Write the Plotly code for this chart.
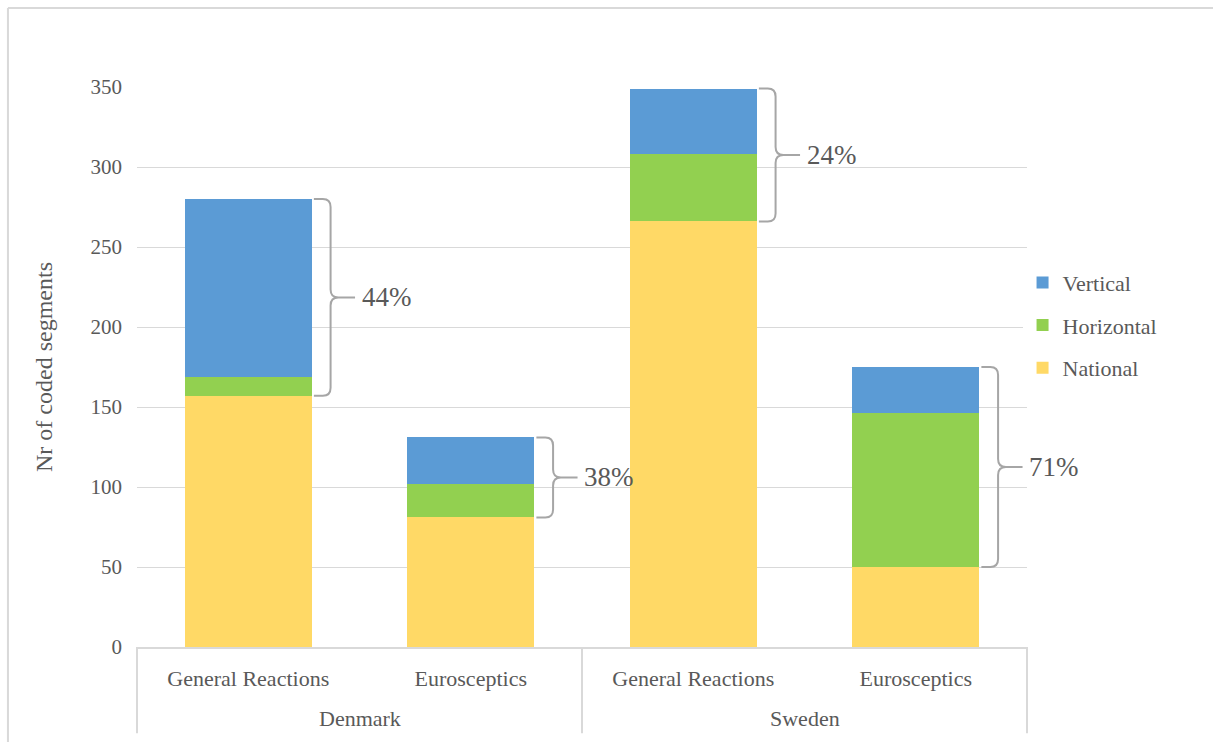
import plotly.graph_objects as go

# Coded segments per country and group
countries = ["Denmark", "Denmark", "Sweden", "Sweden"]
groups = ["General Reactions", "Eurosceptics", "General Reactions", "Eurosceptics"]
national = [157, 81, 266, 50]
horizontal = [12, 21, 42, 96]
vertical = [111, 29, 41, 29]
share_labels = ["44%", "38%", "24%", "71%"]

FONT = "Liberation Serif, Times New Roman, DejaVu Serif, serif"
GREY_TEXT = "#595959"
GRID = "#d9d9d9"
COLORS = {"National": "#FFD966", "Horizontal": "#92D050", "Vertical": "#5B9BD5"}
LEGEND_RANK = {"Vertical": 1, "Horizontal": 2, "National": 3}

xpos = list(range(len(groups)))

fig = go.Figure()
for name, vals in [("National", national), ("Horizontal", horizontal), ("Vertical", vertical)]:
    fig.add_trace(go.Bar(
        x=xpos, y=vals, name=name, legendgroup=name,
        legendrank=LEGEND_RANK[name],
        marker=dict(color=COLORS[name], line=dict(width=0)),
        hoverinfo="y+name",
    ))

shapes = []
annotations = []

# Curly brackets spanning the horizontal + vertical parts of each bar
for i, lab in enumerate(share_labels):
    y_bot = national[i]
    y_top = national[i] + horizontal[i] + vertical[i]
    y_mid = (y_top + y_bot) / 2
    x0 = i + 0.295
    x1 = i + 0.37
    x2 = i + 0.48
    rx, ry = 0.035, 5
    path = (
        f"M {x0},{y_top} L {x1 - rx},{y_top} Q {x1},{y_top} {x1},{y_top - ry} "
        f"L {x1},{y_mid + ry} Q {x1},{y_mid} {x1 + rx},{y_mid} L {x2},{y_mid} "
        f"M {x1 + rx},{y_mid} Q {x1},{y_mid} {x1},{y_mid - ry} "
        f"L {x1},{y_bot + ry} Q {x1},{y_bot} {x1 - rx},{y_bot} L {x0},{y_bot}"
    )
    shapes.append(dict(type="path", path=path, xref="x", yref="y",
                       line=dict(color="#a6a6a6", width=2)))
    annotations.append(dict(x=x2 + 0.02, y=y_mid, xref="x", yref="y", text=lab,
                            showarrow=False, xanchor="left", yanchor="middle",
                            font=dict(family=FONT, size=27, color=GREY_TEXT)))

# Country group box below the axis
for px in [0, 0.5, 1]:
    shapes.append(dict(type="line", xref="paper", yref="paper",
                       x0=px, x1=px, y0=0, y1=-0.154,
                       line=dict(color=GRID, width=2)))
for k, c in enumerate(dict.fromkeys(countries)):
    annotations.append(dict(x=0.25 + 0.5 * k, y=-0.127, xref="paper", yref="paper",
                            text=c, showarrow=False, xanchor="center", yanchor="middle",
                            font=dict(family=FONT, size=22, color=GREY_TEXT)))

# Outer chart frame
shapes.append(dict(type="line", xref="paper", yref="paper",
                   x0=-0.145, x1=1.3, y0=1.141, y1=1.141,
                   line=dict(color=GRID, width=2)))
shapes.append(dict(type="line", xref="paper", yref="paper",
                   x0=-0.145, x1=-0.145, y0=1.141, y1=-0.2,
                   line=dict(color=GRID, width=2)))

fig.update_layout(
    width=1213, height=742,
    margin=dict(l=137, r=186, t=87, b=95),
    paper_bgcolor="white", plot_bgcolor="white",
    barmode="stack", bargap=0.43,
    font=dict(family=FONT, color=GREY_TEXT),
    shapes=shapes, annotations=annotations,
    legend=dict(x=0.995, y=0.688, xanchor="left", yanchor="top",
                traceorder="grouped", tracegroupgap=11,
                font=dict(family=FONT, size=22, color=GREY_TEXT),
                itemwidth=30),
    xaxis=dict(range=[-0.5, 3.5], tickvals=xpos, ticktext=groups,
               showgrid=False, zeroline=False, showline=True,
               linecolor=GRID, linewidth=2, ticks="",
               ticklabelstandoff=11,
               tickfont=dict(family=FONT, size=22, color=GREY_TEXT)),
    yaxis=dict(range=[0, 350], dtick=50, showgrid=True, gridcolor=GRID,
               gridwidth=1, zeroline=False, showline=False, ticks="",
               ticklabelstandoff=14,
               tickfont=dict(family=FONT, size=21, color=GREY_TEXT),
               title=dict(text="Nr of coded segments", standoff=31,
                          font=dict(family=FONT, size=24, color=GREY_TEXT))),
    showlegend=True,
)

fig.write_html("out.html")
